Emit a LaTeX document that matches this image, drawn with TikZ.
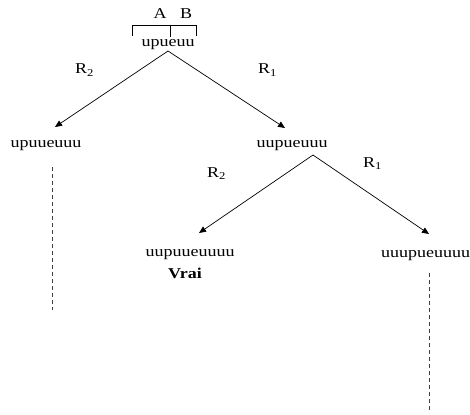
\documentclass[tikz,border=0pt]{standalone}
\usepackage{fontspec}
\setmainfont{Liberation Serif}[FakeStretch=1.2]
\usetikzlibrary{arrows.meta}
\begin{document}
\begin{tikzpicture}[x=1pt,y=-1pt,
  lbl/.style={inner sep=0pt,anchor=base,font=\fontsize{15}{18}\selectfont},
  rlbl/.style={inner sep=0pt,anchor=base west,font=\fontsize{15}{18}\selectfont},
  edge/.style={line width=0.7pt,-{Triangle[length=7pt,width=6pt]}},
  brk/.style={line width=0.7pt},
  dots/.style={line width=1pt,dash pattern=on 4pt off 3pt,black!75}]
\useasboundingbox (0,0) rectangle (470,414);
% labels A and B
\node[lbl] (A) at (160,19) {A};
\node[lbl] (B) at (186,19) {B};
% bracket
\coordinate (bl) at (132,25);
\coordinate (bm) at (170,25);
\coordinate (br) at (196,25);
\draw[brk] ([yshift=-11pt]bl) -- (bl) -- (br) -- ([yshift=-11pt]br);
\draw[brk] (bm) -- ([yshift=-12pt]bm);
% nodes
\node[lbl] (root) at (168,47) {upueuu};
\node[lbl] (l1) at (46,147) {upuueuuu};
\node[lbl] (r1) at (292,147) {uupueuuu};
\node[lbl] (l2) at (190,256) {uupuueuuuu};
\node[lbl] (vrai) at (185,278) {\textbf{Vrai}};
\node[rlbl] (r2) at (381,257) {uuupueuuuu};
% edge labels
\node[rlbl] (R2a) at (75,74) {R\textsubscript{2}};
\node[rlbl] (R1a) at (258,74) {R\textsubscript{1}};
\node[rlbl] (R2b) at (207,177) {R\textsubscript{2}};
\node[rlbl] (R1b) at (363,167) {R\textsubscript{1}};
% connectors
\coordinate (apex1) at (168,51);
\coordinate (tl1) at (55,127);
\coordinate (tr1) at (285,128);
\coordinate (apex2) at (313,155);
\coordinate (tl2) at (199,233);
\coordinate (tr2) at (429,234);
\draw[edge] (apex1) -- (tl1);
\draw[edge] (apex1) -- (tr1);
\draw[edge] (apex2) -- (tl2);
\draw[edge] (apex2) -- (tr2);
% dashed continuations
\coordinate (d1a) at (52,167);
\coordinate (d1b) at (52,310);
\coordinate (d2a) at (429,273);
\coordinate (d2b) at (429,413);
\draw[dots] (d1a) -- (d1b);
\draw[dots] (d2a) -- (d2b);
\end{tikzpicture}
\end{document}
